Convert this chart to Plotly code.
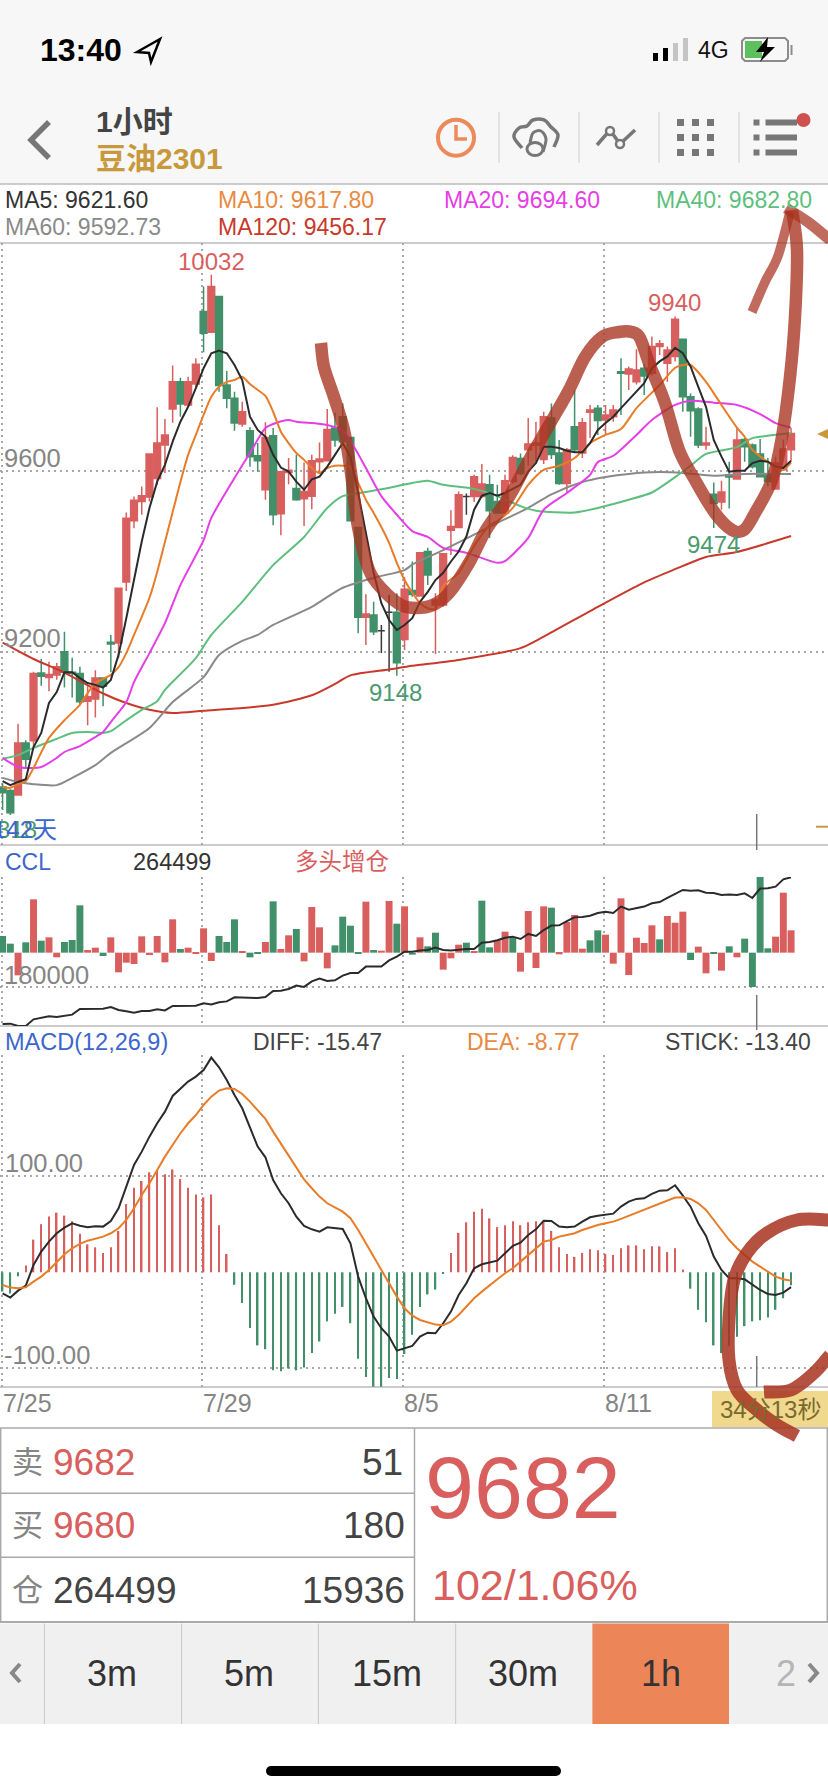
"""1 hour soybean oil chart screen, candles with MA lines, CCL and MACD panels."""

import plotly.graph_objects as go

W, H = 828, 1792
FONT = "Liberation Sans, Noto Sans CJK SC, sans-serif"

RED = "#d95f5f"
GREEN = "#41906a"
DARK = "#3a3a3a"
GREY_TEXT = "#858585"
GOLD = "#c8993c"
BLUE = "#3d66cc"
ORANGE = "#e8873c"
INK = "#a8331f"

# price candles
opens = [
    8903, 8895, 8885, 9000, 9005, 9154, 9144, 9150, 9201, 9156,
    9153, 9092, 9097, 9143, 9222, 9220, 9355, 9490, 9532, 9542,
    9583, 9657, 9736, 9796, 9745, 9791, 9951, 9905, 9984, 9789,
    9760, 9703, 9688, 9633, 9558, 9677, 9505, 9596, 9561, 9538,
    9544, 9620, 9622, 9694, 9719, 9673, 9475, 9277, 9282, 9247,
    9288, 9288, 9228, 9336, 9324, 9422, 9304, 9304, 9469, 9475,
    9543, 9543, 9543, 9569, 9532, 9507, 9576, 9627, 9646, 9656,
    9625, 9716, 9639, 9572, 9697, 9639, 9729, 9738, 9712, 9719,
    9818, 9813, 9796, 9826, 9815, 9874, 9837, 9852, 9890, 9763,
    9736, 9657, 9548, 9531, 9591, 9582, 9669, 9657, 9637, 9593,
    9560, 9602, 9646,
]
highs = [
    8911, 8898, 9042, 9006, 9157, 9185, 9179, 9176, 9245, 9188,
    9168, 9125, 9160, 9143, 9238, 9341, 9508, 9543, 9565, 9637,
    9740, 9714, 9832, 9805, 9807, 9848, 10006, 10032, 9984, 9820,
    9774, 9752, 9696, 9661, 9707, 9694, 9600, 9628, 9635, 9618,
    9635, 9662, 9736, 9728, 9749, 9673, 9475, 9328, 9311, 9260,
    9326, 9330, 9366, 9400, 9419, 9430, 9330, 9417, 9513, 9554,
    9550, 9591, 9615, 9591, 9569, 9591, 9634, 9638, 9716, 9708,
    9730, 9748, 9668, 9650, 9777, 9716, 9745, 9745, 9745, 9745,
    9848, 9830, 9868, 9835, 9896, 9888, 9874, 9940, 9890, 9770,
    9740, 9697, 9574, 9578, 9620, 9694, 9672, 9660, 9670, 9628,
    9631, 9669, 9694,
]
lows = [
    8852, 8841, 8885, 8945, 8992, 9126, 9114, 9139, 9122, 9100,
    9084, 9039, 9056, 9081, 9156, 9187, 9335, 9473, 9503, 9532,
    9569, 9595, 9706, 9719, 9745, 9783, 9861, 9905, 9774, 9738,
    9688, 9697, 9609, 9598, 9536, 9480, 9458, 9570, 9534, 9478,
    9515, 9595, 9622, 9653, 9664, 9490, 9242, 9216, 9238, 9198,
    9157, 9148, 9205, 9322, 9322, 9348, 9196, 9300, 9414, 9475,
    9503, 9531, 9540, 9452, 9505, 9500, 9572, 9590, 9611, 9615,
    9615, 9626, 9569, 9551, 9641, 9628, 9672, 9679, 9681, 9708,
    9723, 9778, 9790, 9767, 9810, 9855, 9796, 9841, 9730, 9675,
    9650, 9646, 9474, 9514, 9517, 9580, 9620, 9605, 9585, 9566,
    9558, 9600, 9622,
]
closes = [
    8890, 8846, 9000, 8964, 9153, 9147, 9151, 9168, 9156, 9153,
    9091, 9102, 9143, 9125, 9218, 9341, 9495, 9535, 9545, 9637,
    9661, 9679, 9796, 9747, 9796, 9835, 9903, 10006, 9788, 9760,
    9705, 9730, 9631, 9622, 9673, 9503, 9598, 9601, 9536, 9554,
    9622, 9626, 9691, 9668, 9664, 9490, 9277, 9284, 9245, 9247,
    9288, 9177, 9339, 9327, 9419, 9370, 9315, 9417, 9477, 9547,
    9543, 9587, 9571, 9512, 9507, 9578, 9629, 9594, 9659, 9661,
    9719, 9636, 9572, 9646, 9646, 9706, 9734, 9711, 9723, 9734,
    9815, 9824, 9822, 9809, 9874, 9880, 9866, 9934, 9763, 9732,
    9657, 9661, 9528, 9553, 9586, 9668, 9653, 9609, 9587, 9576,
    9617, 9648, 9682,
]
doji_idx = [49, 50, 60]

ma5 = [
    8916, 8907, 8914, 8920, 8991, 9022, 9088, 9112, 9156, 9156,
    9143, 9132, 9128, 9122, 9139, 9194, 9275, 9359, 9444, 9518,
    9576, 9613, 9664, 9708, 9741, 9782, 9826, 9859, 9865, 9859,
    9833, 9800, 9719, 9690, 9675, 9635, 9607, 9598, 9576, 9558,
    9581, 9587, 9609, 9635, 9661, 9631, 9551, 9463, 9375, 9308,
    9271, 9249, 9260, 9275, 9311, 9333, 9359, 9375, 9400, 9422,
    9455, 9514, 9545, 9551, 9545, 9551, 9560, 9569, 9598, 9617,
    9653, 9653, 9650, 9644, 9641, 9641, 9661, 9690, 9705, 9719,
    9738, 9756, 9774, 9793, 9826, 9841, 9852, 9871, 9859, 9830,
    9785, 9741, 9668, 9631, 9598, 9600, 9600, 9617, 9622, 9620,
    9609, 9606, 9622,
]
ma10_idx = [
    0, 1, 2, 3, 6, 8, 10, 11, 12, 13, 14, 15, 16, 17, 18, 19, 20, 21, 22, 23,
    24, 25, 26, 27, 28, 29, 30, 31, 32, 33, 34, 35, 36, 37, 38, 39, 40, 41, 42, 43,
    44, 45, 46, 47, 48, 49, 50, 51, 52, 53, 54, 55, 56, 57, 59, 61, 63, 64, 66, 68,
    70, 72, 74, 76, 78, 80, 82, 85, 87, 88, 89, 91, 93, 95, 96, 97, 99, 100, 101, 102,
]
ma10 = [
    8903, 8901, 8909, 8916, 9011, 9050, 9084, 9110, 9132, 9141, 9150, 9167, 9198, 9238, 9278, 9320, 9377, 9443, 9509, 9575,
    9635, 9679, 9723, 9763, 9785, 9796, 9800, 9807, 9791, 9778, 9765, 9730, 9686, 9661, 9639, 9624, 9606, 9595, 9606, 9611,
    9611, 9608, 9573, 9536, 9507, 9476, 9441, 9397, 9359, 9331, 9308, 9297, 9295, 9346, 9375, 9434, 9480, 9489, 9518, 9569,
    9602, 9611, 9628, 9661, 9679, 9692, 9738, 9789, 9827, 9833, 9833, 9796, 9745, 9695, 9675, 9646, 9619, 9606, 9602, 9618,
]
ma20_idx = [
    0, 1, 2, 3, 5, 7, 8, 10, 12, 13, 14, 16, 17, 19, 21, 23, 26, 27, 30, 32,
    34, 35, 37, 38, 42, 44, 45, 47, 49, 51, 53, 55, 57, 60, 64, 65, 68, 70, 73, 76,
    77, 79, 82, 84, 87, 89, 92, 95, 98, 100, 102,
]
ma20 = [
    8967, 8956, 8947, 8945, 8947, 8967, 8980, 8993, 9013, 9024, 9046, 9090, 9134, 9198, 9264, 9348, 9447, 9496, 9584, 9639,
    9694, 9703, 9712, 9708, 9701, 9688, 9666, 9606, 9544, 9503, 9467, 9454, 9430, 9419, 9397, 9401, 9452, 9514, 9551, 9591,
    9619, 9633, 9679, 9712, 9745, 9754, 9750, 9745, 9725, 9705, 9695,
]
ma40_idx = [
    0, 2, 4, 7, 9, 11, 13, 14, 16, 18, 20, 21, 25, 27, 31, 35, 39, 42, 44, 47,
    49, 53, 55, 57, 61, 64, 67, 69, 74, 77, 81, 84, 87, 89, 91, 95, 97, 99, 102,
]
ma40 = [
    8965, 8973, 8989, 9009, 9022, 9024, 9022, 9026, 9050, 9073, 9092, 9117, 9187, 9238, 9311, 9392, 9454, 9518, 9544, 9553,
    9559, 9573, 9578, 9569, 9560, 9544, 9522, 9512, 9508, 9518, 9536, 9552, 9586, 9611, 9637, 9652, 9672, 9677, 9683,
]
ma60_idx = [
    0, 2, 4, 7, 9, 12, 14, 19, 22, 26, 28, 31, 33, 35, 40, 44, 48, 52, 53, 57,
    61, 64, 68, 71, 75, 78, 81, 85, 88, 92, 96, 102,
]
ma60 = [
    8923, 8914, 8909, 8907, 8923, 8951, 8978, 9033, 9090, 9145, 9194, 9225, 9238, 9260, 9300, 9342, 9364, 9381, 9393, 9425,
    9459, 9485, 9518, 9548, 9575, 9586, 9593, 9597, 9595, 9589, 9593, 9593,
]
ma120_idx = [
    0, 4, 8, 13, 16, 19, 22, 26, 31, 35, 40, 43, 45, 50, 53, 59, 67, 69, 77, 83,
    87, 91, 95, 102,
]
ma120 = [
    9221, 9185, 9155, 9109, 9088, 9073, 9066, 9071, 9077, 9084, 9105, 9130, 9149, 9162, 9170, 9183, 9209, 9225, 9300, 9354,
    9383, 9410, 9421, 9456,
]

# open interest panel
ccl = [
    151800, 152100, 150300, 150300, 155400, 156400, 157700, 157200, 158200, 159000,
    163400, 163400, 163600, 163600, 164900, 162600, 161600, 160500, 161800, 161800,
    163100, 162300, 165700, 165900, 165900, 165900, 167700, 166900, 168500, 169200,
    172300, 172300, 171800, 171800, 172600, 177200, 177400, 178700, 181300, 180300,
    184600, 186700, 184900, 185400, 189000, 191000, 191000, 195900, 195900, 195900,
    200700, 203600, 207400, 207400, 208200, 208700, 210500, 208700, 208200, 208900,
    209400, 209400, 214300, 214800, 216100, 218100, 218900, 217100, 221000, 219400,
    224000, 227400, 227600, 230900, 233800, 234000, 235000, 237100, 238100, 237100,
    242000, 239600, 240900, 242000, 244500, 245500, 248600, 251700, 254800, 254200,
    254500, 252700, 252400, 250900, 251200, 250900, 252200, 248600, 255800, 256000,
    257300, 262900, 264499,
]
ccl_change = [
    50, 27, -68, 31, 160, 36, 46, -14, 32, 38,
    142, 8, 15, -10, 46, -59, -30, -34, 49, -7,
    50, -29, 100, 11, 15, -4, 73, -25, 50, 32,
    100, 5, -14, -3, 32, 154, 11, 52, 71, -26,
    137, 76, -47, 22, 108, 81, -3, 153, 8, 6,
    155, 87, 139, -6, 46, 19, 60, -51, -17, 24,
    30, 5, 156, 16, 38, 63, 47, -57, 125, -46,
    139, 135, -5, 92, 113, 12, 37, 67, 54, -33,
    163, -67, 45, 29, 82, 40, 110, 90, 123, -22,
    18, -62, -4, -54, 19, -14, 42, -103, 230, 13,
    48, 180, 67,
]
ccl_side = list(
    "ggrgrgrrgg"
    "grrgrrrrrr"
    "rrrgrrrrgg"
    "grggrgrrgr"
    "rrrggggrgr"
    "rgrgrggrrr"
    "grggrrgrrr"
    "rgrrrrggrr"
    "rrrrrgrrrg"
    "rrgrgrgggg"
    "rrr"
)

# MACD panel
macd_stick = [
    -20, -22, -4, 7, 34, 50, 58, 62, 59, 53,
    40, 29, 26, 20, 26, 43, 71, 88, 95, 104,
    106, 102, 107, 97, 88, 81, 78, 81, 49, 19,
    -13, -32, -58, -76, -80, -102, -103, -100, -102, -99,
    -84, -72, -51, -43, -36, -53, -90, -109, -119, -119,
    -110, -111, -85, -65, -36, -23, -18, -1, 20, 41,
    52, 63, 66, 56, 47, 49, 53, 49, 52, 53,
    53, 43, 26, 19, 16, 20, 24, 23, 19, 18,
    25, 28, 28, 24, 27, 27, 21, 25, 3, -17,
    -39, -52, -76, -84, -77, -67, -56, -51, -50, -47,
    -39, -27, -13.4,
]
macd_diff = [
    -21.8, -26.3, -19.1, -13.9, 7.6, 21.5, 31.9, 40.6, 46.5, 51,
    48.5, 46.8, 47.8, 47.5, 53.4, 66.6, 89.1, 111.6, 125.5, 141.1,
    155, 167.1, 183.4, 191.4, 198.3, 203.5, 210.4, 223.3, 213.2, 200,
    184.4, 170.6, 149.8, 130.7, 119.6, 96, 82.2, 71.8, 57.9, 48.2,
    44.7, 42.3, 46.8, 46.1, 45.1, 30.2, -4.5, -27, -46.1, -58.2,
    -66.9, -81.5, -79, -76.6, -66.9, -62.8, -63.4, -53, -40.9, -23.6,
    -11.4, 4.2, 8.3, 10.1, 12.1, 19.8, 27.4, 30.9, 38.8, 44.7,
    53.7, 53.4, 47.5, 46.8, 47.5, 52.7, 57.2, 58.9, 60.3, 61,
    68.3, 73.5, 76.3, 77, 81.5, 84.9, 85.3, 90.5, 79.7, 68.3,
    51, 37.8, 16.3, 2.4, -6.2, -6.2, -7.3, -13.2, -18.4, -22.5,
    -23.6, -21.1, -15.47,
]
macd_dea = [
    -13.2, -15.9, -16.6, -15.6, -9.7, -4.5, 2.4, 10.4, 18.7, 25,
    29.5, 32.9, 35.4, 37.1, 40.6, 45.8, 54.4, 66.6, 80.4, 92.6,
    106.4, 120.3, 132.4, 144.6, 155, 163.6, 174, 182.7, 189, 191.4,
    190.7, 185.5, 177.5, 168.8, 159.5, 146.3, 134.2, 122, 109.9, 96.7,
    87.4, 78.7, 71.8, 67.3, 63.1, 56.2, 44, 30.2, 16.3, 2.4,
    -11.4, -25.3, -37.4, -45.1, -49.6, -52.4, -54.4, -55.1, -51.3, -44.4,
    -35.7, -27, -20.1, -13.2, -7.3, -1, 4.2, 11.1, 18, 25,
    31.9, 33.6, 37.1, 38.8, 40.6, 44, 46.8, 49.2, 51, 52.7,
    55.5, 58.6, 62.1, 64.8, 67.6, 71.1, 74.5, 77.7, 78, 76.3,
    71.8, 64.8, 54.4, 44, 33.6, 25, 18, 11.1, 5.9, 0.7,
    -4.5, -7.3, -8.77,
]

grid_idx = [-0.1, 25.8, 51.8, 77.8]
date_labels = ["7/25", "7/29", "8/5", "8/11"]
price_ticks = [9200, 9600]
ccl_ticks = [180000]
macd_ticks = [-100, 100]
periods = ["3m", "5m", "15m", "30m", "1h"]

n = len(closes)
idx = list(range(n))
plain_idx = [i for i in idx if i not in doji_idx]


def px(x):
    return x / W


def py(y):
    return 1 - y / H


def dom(top, bottom):
    return [py(bottom), py(top)]


shapes = []
notes = []


def rect(x0, y0, x1, y1, fill, layer="below"):
    shapes.append(dict(type="rect", xref="paper", yref="paper", x0=px(x0), x1=px(x1),
                       y0=py(y0), y1=py(y1), fillcolor=fill, line_width=0, layer=layer))


def seg(x0, y0, x1, y1, color="#aaaaaa", width=1.5, layer="below"):
    shapes.append(dict(type="line", xref="paper", yref="paper", x0=px(x0), x1=px(x1),
                       y0=py(y0), y1=py(y1), line=dict(color=color, width=width), layer=layer))


def disc(cx, cy, rx, ry, fill=None, color=None, width=0, layer="above"):
    shapes.append(dict(type="circle", xref="paper", yref="paper", x0=px(cx - rx), x1=px(cx + rx),
                       y0=py(cy + ry), y1=py(cy - ry), fillcolor=fill or "rgba(0,0,0,0)",
                       line=dict(color=color or "rgba(0,0,0,0)", width=width), layer=layer))


def poly(points, color=None, width=0, fill=None, closed=False, smooth=False, opacity=1, layer="above"):
    pts = [(px(x), py(y)) for x, y in points]
    path = f"M{pts[0][0]:.5f},{pts[0][1]:.5f}"
    for k in range(len(pts) - 1):
        if smooth:
            p0, p1 = pts[max(k - 1, 0)], pts[k]
            p2, p3 = pts[k + 1], pts[min(k + 2, len(pts) - 1)]
            c1 = (p1[0] + (p2[0] - p0[0]) / 6, p1[1] + (p2[1] - p0[1]) / 6)
            c2 = (p2[0] - (p3[0] - p1[0]) / 6, p2[1] - (p3[1] - p1[1]) / 6)
            path += f" C{c1[0]:.5f},{c1[1]:.5f} {c2[0]:.5f},{c2[1]:.5f} {p2[0]:.5f},{p2[1]:.5f}"
        else:
            path += f" L{pts[k + 1][0]:.5f},{pts[k + 1][1]:.5f}"
    if closed:
        path += " Z"
    shapes.append(dict(type="path", xref="paper", yref="paper", path=path,
                       fillcolor=fill or "rgba(0,0,0,0)", opacity=opacity,
                       line=dict(color=color or "rgba(0,0,0,0)", width=width), layer=layer))


def label(text, x, y, size, color=DARK, anchor="left", bold=False):
    # annotations carry a little padding, pull them back to the measured edge
    nudge = {"left": -2, "right": 2, "center": 0}[anchor]
    notes.append(dict(text=f"<b>{text}</b>" if bold else text, xref="paper", yref="paper",
                      x=px(x + nudge), y=py(y), xanchor=anchor, yanchor="middle", showarrow=False,
                      font=dict(family=FONT, size=size, color=color), borderpad=0))


fig = go.Figure()

# main panel
candle_style = dict(
    increasing=dict(line=dict(color=RED, width=1.5), fillcolor=RED),
    decreasing=dict(line=dict(color=GREEN, width=1.5), fillcolor=GREEN),
    hoverinfo="skip", showlegend=False, xaxis="x", yaxis="y",
)
fig.add_trace(go.Candlestick(
    x=plain_idx,
    open=[opens[i] for i in plain_idx], high=[highs[i] for i in plain_idx],
    low=[lows[i] for i in plain_idx], close=[closes[i] for i in plain_idx],
    **candle_style,
))
fig.add_trace(go.Candlestick(
    x=doji_idx,
    open=[opens[i] for i in doji_idx], high=[highs[i] for i in doji_idx],
    low=[lows[i] for i in doji_idx], close=[closes[i] for i in doji_idx],
    increasing=dict(line=dict(color=DARK, width=1.5), fillcolor=DARK),
    decreasing=dict(line=dict(color=DARK, width=1.5), fillcolor=DARK),
    hoverinfo="skip", showlegend=False, xaxis="x", yaxis="y",
))

for xs, ys, color in [
    (ma120_idx, ma120, "#c8392b"),
    (ma60_idx, ma60, "#8a8a8a"),
    (ma40_idx, ma40, "#5dbf7e"),
    (ma20_idx, ma20, "#e63ee6"),
    (ma10_idx, ma10, "#e87c28"),
]:
    fig.add_trace(go.Scatter(x=xs, y=ys, mode="lines", line=dict(color=color, width=2, shape="spline", smoothing=0.7),
                             hoverinfo="skip", showlegend=False, xaxis="x", yaxis="y"))
fig.add_trace(go.Scatter(x=idx, y=ma5, mode="lines", line=dict(color="#2b2b2b", width=2),
                         hoverinfo="skip", showlegend=False, xaxis="x", yaxis="y"))

# CCL panel, bars sit below the line
fig.add_trace(go.Bar(x=idx, y=ccl_change, width=0.9,
                     marker=dict(color=[RED if s == "r" else GREEN for s in ccl_side], line_width=0),
                     hoverinfo="skip", showlegend=False, xaxis="x2", yaxis="y2"))
fig.add_trace(go.Scatter(x=idx, y=ccl, mode="lines", line=dict(color="#2b2b2b", width=2),
                         hoverinfo="skip", showlegend=False, xaxis="x2", yaxis="y3"))

# MACD panel
fig.add_trace(go.Bar(x=idx, y=macd_stick, width=0.2,
                     marker=dict(color=[RED if v > 0 else GREEN for v in macd_stick], line_width=0),
                     hoverinfo="skip", showlegend=False, xaxis="x3", yaxis="y4"))
fig.add_trace(go.Scatter(x=idx, y=macd_diff, mode="lines", line=dict(color="#2b2b2b", width=2),
                         hoverinfo="skip", showlegend=False, xaxis="x3", yaxis="y4"))
fig.add_trace(go.Scatter(x=idx, y=macd_dea, mode="lines", line=dict(color="#e87c28", width=2),
                         hoverinfo="skip", showlegend=False, xaxis="x3", yaxis="y4"))

# status bar and toolbar
rect(0, 0, W, 184, "#f7f7f7")
label("13:40", 41, 50, 32, "#000000", bold=True)
poly([(160, 39), (137, 52), (149, 53), (151, 62)], "#000000", 2.5, closed=True)
for k, (bar_top, bar_color) in enumerate([(53, "#000000"), (48, "#000000"), (43, "#c4c4c4"), (38, "#c4c4c4")]):
    rect(653 + k * 10, bar_top, 658 + k * 10, 61, bar_color, layer="above")
label("4G", 699, 50, 23, "#111111")
rect(745, 41, 762, 58, "#5cc05c", layer="above")
poly([(745, 38), (785, 38), (788, 41), (788, 58), (785, 61), (745, 61), (742, 58), (742, 41)],
     "#8c8c8c", 2, closed=True)
rect(790.5, 45, 792.5, 55, "#8c8c8c", layer="above")
poly([(768, 37), (756, 52), (764, 52), (760, 62), (775, 47), (767, 47)], fill="#000000", closed=True)

poly([(49, 122), (31, 140), (49, 158)], "#777777", 5.5)
label("1小时", 97, 122, 30, "#444444", bold=True)
label("豆油2301", 97, 158, 30, GOLD, bold=True)

disc(456, 137.7, 18, 18, color="#ee8a5a", width=4)
poly([(456, 125), (456, 139), (467, 139)], "#ee8a5a", 3.5)
for sep_x in [499, 579, 659, 739]:
    seg(sep_x, 112, sep_x, 163, "#dddddd", 1.5)
poly([(522, 148), (514, 137), (519, 128), (527, 126), (533, 120), (544, 120), (551, 127), (558, 135), (554, 147)],
     "#777777", 3.5, smooth=True)
disc(535, 149, 8, 6.5, color="#777777", width=3)
poly([(530, 143), (533, 133), (541, 131), (546, 139), (543, 152)], "#777777", 3, smooth=True)
poly([(597, 145), (610, 130), (620, 144), (635, 130)], "#777777", 3.5)
disc(610, 131, 4, 4, color="#777777", width=2.5, fill="#f7f7f7")
disc(620, 144, 4, 4, color="#777777", width=2.5, fill="#f7f7f7")
for row_y in [122.5, 137.5, 152.5]:
    for col_x in [680.5, 695.5, 710.5]:
        rect(col_x - 3.5, row_y - 3.5, col_x + 3.5, row_y + 3.5, "#777777", layer="above")
    rect(753.5, row_y - 3, 759.5, row_y + 3, "#777777", layer="above")
    rect(765.5, row_y - 3, 797, row_y + 3, "#777777", layer="above")
disc(803.5, 120, 7, 7, fill="#cf5050")

# legend rows
seg(0, 184, W, 184, "#bbbbbb", 1.5)
seg(0, 243, W, 243, "#bbbbbb", 1.5)
seg(0, 845, W, 845, "#bbbbbb", 1.5)
seg(0, 1026, W, 1026, "#bbbbbb", 1.5)
seg(0, 1387, W, 1387, "#bbbbbb", 1.5)
label("MA5: 9621.60", 6, 200, 23, "#333333")
label("MA10: 9617.80", 219, 200, 23, "#e98a42")
label("MA20: 9694.60", 445, 200, 23, "#e63ee6")
label("MA40: 9682.80", 657, 200, 23, "#5dbf7e")
label("MA60: 9592.73", 6, 226.5, 23, "#8a8a8a")
label("MA120: 9456.17", 219, 226.5, 23, "#c8392b")

# price labels
label("9600", 5, 457.5, 25.5, GREY_TEXT)
label("9200", 5, 638, 25.5, GREY_TEXT)
label("10032", 211, 261.5, 24, RED, "center")
label("9940", 674, 303, 24, RED, "center")
label("9474", 713, 544, 24, "#4a9a70", "center")
label("9148", 395.5, 692, 24, "#4a9a70", "center")
label("318", 36, 830, 24, "#4a9a70", "right")
label("142天", 56, 830, 24, BLUE, "right")
poly([(817, 434), (828, 429), (828, 439)], fill=GOLD, closed=True)
seg(816, 826.7, W, 826.7, GOLD, 2)
seg(756.7, 814, 756.7, 850, "#777777", 1.5, "above")
seg(756.7, 995, 756.7, 1030, "#777777", 1.5, "above")
seg(756.7, 1356, 756.7, 1387, "#777777", 1.5, "above")

label("CCL", 6, 862, 23, BLUE)
label("264499", 134, 862, 23.5, "#333333")
label("多头增仓", 296, 862, 23.5, RED)
label("180000", 5, 975, 25.5, GREY_TEXT)

label("MACD(12,26,9)", 6, 1042, 23.5, BLUE)
label("DIFF: -15.47", 254, 1042, 23, "#444444")
label("DEA: -8.77", 468, 1042, 23, "#e98a42")
label("STICK: -13.40", 665.5, 1042, 23, "#444444")
label("100.00", 6, 1163, 25.5, GREY_TEXT)
label("-100.00", 5, 1355, 25.5, GREY_TEXT)

for pos, text in zip(grid_idx, date_labels):
    notes.append(dict(text=text, xref="x3", yref="paper", x=pos, y=py(1403), xanchor="left", yanchor="middle",
                      showarrow=False, xshift=-1, font=dict(family=FONT, size=25, color=GREY_TEXT)))

rect(712, 1391, W, 1427, "#f0d98c")
label("34分13秒", 770, 1409, 24, "#7a6a30", "center")

# quote table
seg(0.7, 1428, 0.7, 1622)
seg(827.3, 1428, 827.3, 1622)
seg(0, 1428, W, 1428)
seg(0, 1622, W, 1622, "#aaaaaa", 2)
seg(0, 1493.3, 414.5, 1493.3)
seg(0, 1557.3, 414.5, 1557.3)
seg(414.5, 1428, 414.5, 1622)
label("卖", 13, 1462, 31, GREY_TEXT)
label("9682", 54, 1462, 37, RED)
label("51", 402, 1462, 37, "#444444", "right")
label("买", 13, 1525, 31, GREY_TEXT)
label("9680", 54, 1525, 37, RED)
label("180", 404, 1525, 37, "#444444", "right")
label("仓", 13, 1590, 31, GREY_TEXT)
label("264499", 54, 1590, 37, "#444444")
label("15936", 404, 1590, 37, "#444444", "right")
label("9682", 426, 1487, 88, RED)
label("102/1.06%", 433, 1585, 43, RED)

# period buttons
rect(0, 1623.5, W, 1724, "#f0f0f0")
rect(592.4, 1623.5, 729, 1724, "#ec8558")
for div_x in [44.4, 181.6, 318.4, 455.7]:
    seg(div_x, 1623.5, div_x, 1724, "#c8c8c8", 1)
for text, cx in zip(periods, [112, 249, 387, 523, 661]):
    label(text, cx, 1673, 36, "#333333", "center")
label("2", 785.5, 1673, 36, "#b5b5b5", "center")
poly([(20, 1664), (12, 1673), (20, 1682)], "#888888", 4)
poly([(809, 1664), (817, 1673), (809, 1682)], "#888888", 4)

# home indicator
rect(271, 1766, 556, 1776, "#000000")
disc(271, 1771, 5, 5, fill="#000000")
disc(556, 1771, 5, 5, fill="#000000")

# hand drawn strokes over the chart
poly([(321, 343), (324, 367), (334, 397), (344, 430), (351, 473), (358, 527), (369, 570), (383, 590), (401, 605),
      (416, 608), (433, 605), (449, 593), (469, 563), (486, 530), (509, 497), (529, 460), (552, 420), (569, 390),
      (585, 357), (602, 337), (619, 332), (632, 332), (640, 338), (649, 363), (665, 403), (679, 450), (695, 480),
      (715, 513), (732, 530), (744, 530), (755, 513), (772, 480), (782, 437), (790, 377), (795, 317), (797, 250),
      (792, 210)], INK, 12.5, smooth=True, opacity=0.78)
poly([(752, 312), (765, 282), (778, 256), (790, 212)], INK, 9.5, smooth=True, opacity=0.72)
poly([(786, 208), (808, 222), (830, 240)], INK, 11, smooth=True, opacity=0.72)
poly([(830, 1220), (797, 1220), (767, 1233), (747, 1253), (734, 1280), (729, 1320), (729, 1360), (737, 1390),
      (757, 1410), (777, 1425), (797, 1436)], INK, 13, smooth=True, opacity=0.85)
poly([(764, 1392), (791, 1390), (814, 1373), (830, 1355)], INK, 13, smooth=True, opacity=0.85)

x_axis = dict(range=[-0.336, 106.78], showgrid=True, gridcolor="#a8a8a8", griddash="2px,4px", gridwidth=1.5,
              tickmode="array", tickvals=grid_idx, showticklabels=False, ticks="", zeroline=False, showline=False,
              rangeslider=dict(visible=False))
y_axis = dict(showgrid=True, gridcolor="#a8a8a8", griddash="2px,4px", gridwidth=1.5, showticklabels=False, ticks="",
              zeroline=False, showline=False, tickmode="array")

fig.update_layout(
    width=W, height=H, margin=dict(l=0, r=0, t=0, b=0), autosize=False,
    paper_bgcolor="#ffffff", plot_bgcolor="rgba(0,0,0,0)", barmode="overlay",
    boxgap=0.08, boxgroupgap=0.05,
    xaxis=dict(x_axis, domain=[0, 1], anchor="y"),
    xaxis2=dict(x_axis, domain=[0, 1], anchor="y2", matches="x"),
    xaxis3=dict(x_axis, domain=[0, 1], anchor="y4", matches="x"),
    yaxis=dict(y_axis, domain=dom(243, 845), anchor="x", range=[8775, 10102], tickvals=price_ticks),
    yaxis2=dict(y_axis, domain=dom(877, 1026), anchor="x2", range=[-220, 227], showgrid=False, tickvals=[]),
    yaxis3=dict(y_axis, domain=dom(877, 1026), anchor="x2", overlaying="y2", range=[150300, 264710], tickvals=ccl_ticks),
    yaxis4=dict(y_axis, domain=dom(1055, 1387), anchor="x3", range=[-119.3, 226], tickvals=macd_ticks),
    shapes=shapes, annotations=notes,
    hovermode=False,
)

fig.write_html("out.html", config=dict(displayModeBar=False),
               post_script="document.body.style.margin='0';")
